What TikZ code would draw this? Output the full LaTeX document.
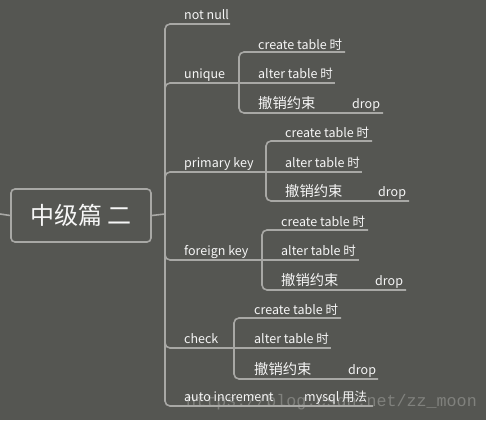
\documentclass[tikz,border=0pt]{standalone}
\usepackage{fontspec}
\setmainfont{Noto Sans CJK SC}
\newfontfamily\wmfont{Liberation Mono}

\definecolor{bgc}{RGB}{85,86,82}
\definecolor{linec}{RGB}{168,168,165}
\definecolor{txtc}{RGB}{246,246,246}
\definecolor{wmc}{RGB}{128,129,125}

\tikzset{
  lnk/.style={draw=linec, line width=1.6pt, rounded corners=5pt},
  lbl/.style={anchor=base west, inner sep=0pt, text=txtc, font=\fontsize{12.5}{14}\selectfont},
  revoke/.style={lbl, font=\fontsize{14.3}{16}\selectfont},
  rootbox/.style={draw=linec, line width=1.6pt, rounded corners=4pt, minimum width=140pt,
    minimum height=53pt, inner sep=0pt, text=txtc, font=\fontsize{24}{26}\selectfont},
  wmark/.style={anchor=base west, inner sep=0pt, text=wmc, font=\wmfont\fontsize{16.7}{18}\selectfont}
}

\begin{document}
\begin{tikzpicture}[x=1pt,y=-1pt]
    \fill[bgc] (0,0) rectangle (486,420);
    \useasboundingbox (0,0) rectangle (486,420);
    \node[wmark] (wm) at (186,406) {https://blog.csdn.net/zz\_moon};

    % root
    \node[rootbox] (root) at (81,215.5) {中级篇 二};
    \coordinate (in) at (0,214);
    \coordinate (trunk) at (165,214);
    \draw[lnk] (in) -- (root.west);
    \draw[lnk] (root.east) -- (trunk);

    % not null
    \node[lbl] (notnull) at (184,19.5) {not null};
    \coordinate (notnull-e) at (230,24);
    \draw[lnk] (trunk) |- (notnull-e);

    % unique
    \node[lbl] (unique) at (184,78.5) {unique};
    \coordinate (unique-j) at (239,83);
    \draw[lnk] (trunk) |- (unique-j);
    \begin{scope}[shift={(239,83)}]
      \node[lbl] (unique-create) at (19,-34) {create table 时};
      \node[lbl] (unique-alter) at (19,-4.5) {alter table 时};
      \node[revoke] (unique-drop) at (19,25) {撤销约束};
      \node[lbl] (unique-dropkw) at (113,25) {drop};
      \coordinate (unique-create-e) at (106,-31);
      \coordinate (unique-alter-e) at (96,0);
      \coordinate (unique-drop-e) at (144,30);
    \end{scope}
    \draw[lnk] (unique-j) |- (unique-create-e);
    \draw[lnk] (unique-j) -- (unique-alter-e);
    \draw[lnk] (unique-j) |- (unique-drop-e);

    % primary key
    \node[lbl] (primary) at (184,167.5) {primary key};
    \coordinate (primary-j) at (266,172);
    \draw[lnk] (trunk) |- (primary-j);
    \begin{scope}[shift={(266,172)}]
      \node[lbl] (primary-create) at (19,-35) {create table 时};
      \node[lbl] (primary-alter) at (19,-4.5) {alter table 时};
      \node[revoke] (primary-drop) at (19,24) {撤销约束};
      \node[lbl] (primary-dropkw) at (112,24) {drop};
      \coordinate (primary-create-e) at (106,-31);
      \coordinate (primary-alter-e) at (96,0);
      \coordinate (primary-drop-e) at (143,29);
    \end{scope}
    \draw[lnk] (primary-j) |- (primary-create-e);
    \draw[lnk] (primary-j) -- (primary-alter-e);
    \draw[lnk] (primary-j) |- (primary-drop-e);

    % foreign key
    \node[lbl] (foreign) at (184,255.5) {foreign key};
    \coordinate (foreign-j) at (262,260);
    \draw[lnk] (trunk) |- (foreign-j);
    \begin{scope}[shift={(262,260)}]
      \node[lbl] (foreign-create) at (19,-34) {create table 时};
      \node[lbl] (foreign-alter) at (19,-4.5) {alter table 时};
      \node[revoke] (foreign-drop) at (19,25) {撤销约束};
      \node[lbl] (foreign-dropkw) at (113,25) {drop};
      \coordinate (foreign-create-e) at (106,-30);
      \coordinate (foreign-alter-e) at (97,0);
      \coordinate (foreign-drop-e) at (144,30);
    \end{scope}
    \draw[lnk] (foreign-j) |- (foreign-create-e);
    \draw[lnk] (foreign-j) -- (foreign-alter-e);
    \draw[lnk] (foreign-j) |- (foreign-drop-e);

    % check
    \node[lbl] (check) at (184,343.5) {check};
    \coordinate (check-j) at (234,348);
    \draw[lnk] (trunk) |- (check-j);
    \begin{scope}[shift={(234,348)}]
      \node[lbl] (check-create) at (20,-34) {create table 时};
      \node[lbl] (check-alter) at (20,-4.5) {alter table 时};
      \node[revoke] (check-drop) at (20,26) {撤销约束};
      \node[lbl] (check-dropkw) at (114,26) {drop};
      \coordinate (check-create-e) at (107,-30);
      \coordinate (check-alter-e) at (97,0);
      \coordinate (check-drop-e) at (144,31);
    \end{scope}
    \draw[lnk] (check-j) |- (check-create-e);
    \draw[lnk] (check-j) -- (check-alter-e);
    \draw[lnk] (check-j) |- (check-drop-e);

    % auto increment
    \node[lbl] (autoinc) at (184,401.5) {auto increment};
    \node[lbl] (mysql) at (304,401.5) {mysql 用法};
    \coordinate (mysql-e) at (373,406);
    \draw[lnk] (trunk) |- (mysql-e);
  \end{tikzpicture}
\end{document}
